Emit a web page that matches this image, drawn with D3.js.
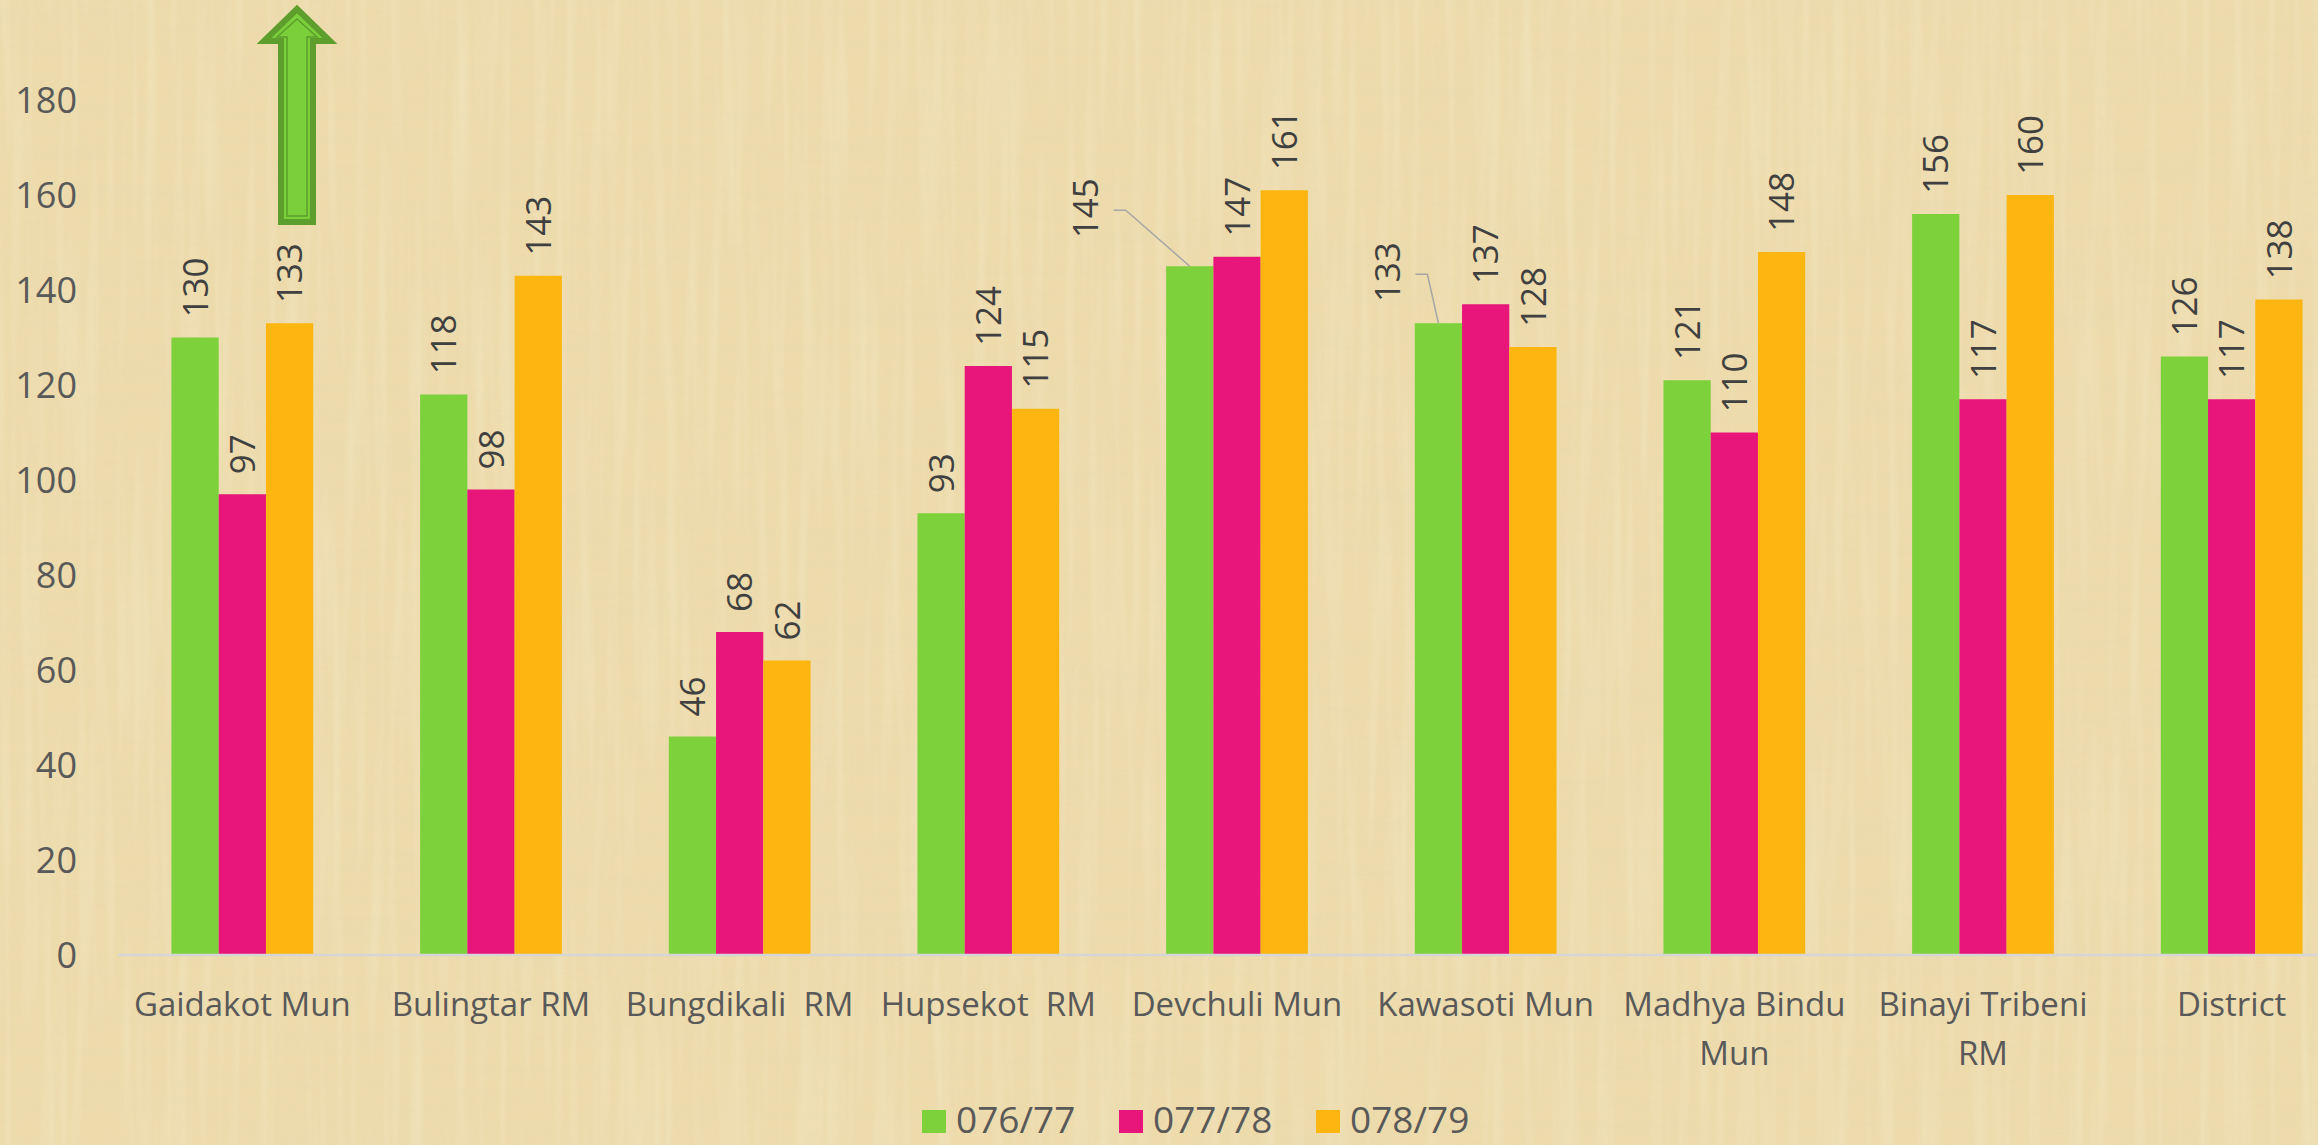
<!DOCTYPE html>
<html>
<head>
<meta charset="utf-8">
<script src="https://cdn.jsdelivr.net/npm/d3@7"></script>
<style>
  body { margin: 0; background: #EDDCAE; }
  svg { display: block; }
  text { font-family: 'Open Sans', 'Noto Sans', sans-serif; }
</style>
</head>
<body>
<div id="chart"></div>
<script>
var categories = ['Gaidakot Mun', 'Bulingtar RM', 'Bungdikali  RM', 'Hupsekot  RM', 'Devchuli Mun',
  'Kawasoti Mun', 'Madhya Bindu\nMun', 'Binayi Tribeni\nRM', 'District']
var seriesNames = ['076/77', '077/78', '078/79']
var values0 = [130, 118, 46, 93, 145, 133, 121, 156, 126]
var values1 = [97, 98, 68, 124, 147, 137, 110, 117, 117]
var values2 = [133, 143, 62, 115, 161, 128, 148, 160, 138]
var yTicks = [0, 20, 40, 60, 80, 100, 120, 140, 160, 180]
var seriesColors = ['#7DD13B', '#E8157A', '#FDB50F']

var w = 2318
var h = 1145
var margin = { top: 100, bottom: 190, left: 118 }

var allValues = [values0, values1, values2]

var svg = d3.select('#chart')
  .append('svg')
  .attr('width', w)
  .attr('height', h)

// parchment background
var defs = svg.append('defs')
var filt = defs.append('filter').attr('id', 'grain')
  .attr('x', 0).attr('y', 0).attr('width', '100%').attr('height', '100%')
filt.append('feTurbulence')
  .attr('type', 'fractalNoise')
  .attr('baseFrequency', '0.004 0.09')
  .attr('numOctaves', 2)
  .attr('seed', 3)
filt.append('feColorMatrix')
  .attr('type', 'matrix')
  .attr('values', '0 0 0 0 0.78  0 0 0 0 0.68  0 0 0 0 0.42  0 0 0 0.9 -0.35')

var filt2 = defs.append('filter').attr('id', 'grain2')
  .attr('x', 0).attr('y', 0).attr('width', '100%').attr('height', '100%')
filt2.append('feTurbulence')
  .attr('type', 'fractalNoise')
  .attr('baseFrequency', '0.09 0.004')
  .attr('numOctaves', 2)
  .attr('seed', 7)
filt2.append('feColorMatrix')
  .attr('type', 'matrix')
  .attr('values', '0 0 0 0 1  0 0 0 0 0.97  0 0 0 0 0.88  0 0 0 0.7 -0.3')

svg.append('rect').attr('width', w).attr('height', h).attr('fill', '#EDDBAC')
svg.append('rect').attr('width', w).attr('height', h).attr('filter', 'url(#grain)').attr('opacity', 0.5)
svg.append('rect').attr('width', w).attr('height', h).attr('filter', 'url(#grain2)').attr('opacity', 0.5)

var x = d3.scaleBand()
  .domain(categories)
  .range([margin.left, 2356])
  .paddingInner(0.43)
  .paddingOuter(0.215)

var xSub = d3.scaleBand()
  .domain(seriesNames)
  .range([0, x.bandwidth()])

var y = d3.scaleLinear()
  .domain([0, 180])
  .range([h - margin.bottom, margin.top])

// y axis labels only
var yAxis = svg.append('g')
  .attr('transform', 'translate(77,0)')
  .call(d3.axisLeft(y).tickValues(yTicks).tickSize(0).tickPadding(0))
yAxis.select('.domain').remove()
yAxis.selectAll('text')
  .attr('fill', '#595959')
  .style('font-size', '36px')
  .attr('dy', '0.36em')

// bars
var groups = svg.selectAll('.group')
  .data(categories)
  .enter().append('g')
  .attr('class', 'group')
  .attr('transform', function(d) { return 'translate(' + x(d) + ',0)' })

groups.selectAll('rect')
  .data(function(d, i) {
    return seriesNames.map(function(s, j) { return { cat: d, s: s, j: j, v: allValues[j][i] } })
  })
  .enter().append('rect')
  .attr('x', function(d) { return xSub(d.s) })
  .attr('y', function(d) { return y(d.v) })
  .attr('width', xSub.bandwidth())
  .attr('height', function(d) { return y(0) - y(d.v) })
  .attr('fill', function(d) { return seriesColors[d.j] })

// x axis line
svg.append('line')
  .attr('x1', margin.left).attr('x2', w)
  .attr('y1', y(0)).attr('y2', y(0))
  .attr('stroke', '#D6D6D6')
  .attr('stroke-width', 2.5)

// labels dragged aside in the original, with leader lines
var moved = {
  'Devchuli Mun|0': { dx: -104, dy: -8 },
  'Kawasoti Mun|0': { dx: -51, dy: -1 }
}

groups.selectAll('.lbl')
  .data(function(d, i) {
    return seriesNames.map(function(s, j) { return { cat: d, s: s, j: j, v: allValues[j][i] } })
  })
  .enter().append('g')
  .attr('class', 'lbl')
  .each(function(d) {
    var g = d3.select(this)
    var cx = xSub(d.s) + xSub.bandwidth() / 2
    var top = y(d.v)
    var m = moved[d.cat + '|' + d.j]
    var lx = cx, ly = top - 20
    if (m) {
      lx = cx + m.dx
      ly = top - 20 + m.dy
      var tx = lx + 28
      var mid = ly - 28
      g.append('polyline')
        .attr('points', [[tx, mid], [tx + 12, mid], [cx, top]].join(' '))
        .attr('fill', 'none')
        .attr('stroke', '#A6A6A6')
        .attr('stroke-width', 1.5)
    }
    g.append('text')
      .attr('transform', 'translate(' + lx + ',' + ly + ') rotate(-90)')
      .attr('dy', '0.36em')
      .attr('fill', '#404040')
      .style('font-size', '35px')
      .text(d.v)
  })

// category labels
svg.selectAll('.xlabel')
  .data(categories)
  .enter().append('text')
  .attr('class', 'xlabel')
  .attr('text-anchor', 'middle')
  .attr('fill', '#595959')
  .style('font-size', '33px')
  .style('white-space', 'pre')
  .each(function(d) {
    var t = d3.select(this)
    d.split('\n').forEach(function(line, k) {
      t.append('tspan')
        .attr('x', x(d) + x.bandwidth() / 2)
        .attr('y', 1016 + k * 49)
        .text(line)
    })
  })

// legend
var legend = svg.selectAll('.legend')
  .data(seriesNames)
  .enter().append('g')
  .attr('class', 'legend')
  .attr('transform', function(d, i) { return 'translate(' + (922 + i * 197) + ',1110)' })

legend.append('rect')
  .attr('width', 24)
  .attr('height', 23)
  .attr('fill', function(d, i) { return seriesColors[i] })

legend.append('text')
  .attr('x', 34)
  .attr('y', 23)
  .attr('fill', '#595959')
  .style('font-size', '37px')
  .text(function(d) { return d })

// green block arrow
var arrow = svg.append('g').attr('transform', 'translate(297,0)')
arrow.append('path')
  .attr('d', 'M0,9 L33,41 L16,41 L16,222 L-16,222 L-16,41 L-33,41 Z')
  .attr('fill', '#7BCF3B')
  .attr('stroke', '#5E9E2C')
  .attr('stroke-width', 6)
  .attr('stroke-linejoin', 'miter')
arrow.append('path')
  .attr('d', 'M0,19 L20,37 L10,37 L10,216 L-10,216 L-10,37 L-20,37 Z')
  .attr('fill', 'none')
  .attr('stroke', '#5E9E2C')
  .attr('stroke-width', 1.5)
</script>
</body>
</html>
